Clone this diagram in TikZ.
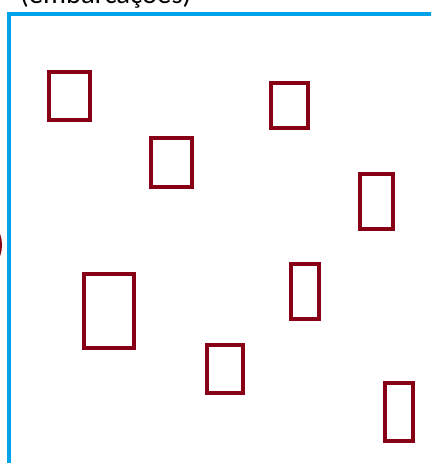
\documentclass[tikz,border=0pt]{standalone}
\usepackage{fontspec}
\usepackage{xcolor}
\usepackage{tikz}
\usetikzlibrary{positioning}

\newfontfamily\labelfont{Carlito}
\definecolor{boatred}{RGB}{136,0,21}
\definecolor{framecyan}{RGB}{0,162,232}

\begin{document}
\begin{tikzpicture}[
  x=1pt, y=-1pt,
  boat/.style={rectangle, draw=boatred, line width=4pt, inner sep=0pt},
  frameline/.style={draw=framecyan, line width=4pt, line join=miter},
  caption/.style={font=\labelfont\fontsize{28.7}{30}\selectfont, inner sep=0pt}
]
\useasboundingbox (0,0) rectangle (431,463);
\clip (0,0) rectangle (431,463);

% area frame
\coordinate (fbot) at (9,470);
\coordinate (fcorner) at (9,14);
\coordinate (fright) at (440,14);
\draw[frameline] (fbot) -- (fcorner) -- (fright);

\node[caption, anchor=base west] (label) at (20,3) {(embarcações)};

% shape cut by the left edge
\fill[boatred] (-20,245) ellipse [x radius=22, y radius=27];

% boats
\node[boat, minimum width=41pt, minimum height=48pt] (b1) at (69.5,96) {};
\node[boat, minimum width=41pt, minimum height=49pt] (b2) at (171.5,162.5) {};
\node[boat, minimum width=37pt, minimum height=45pt] (b3) at (289.5,105.5) {};
\node[boat, minimum width=33pt, minimum height=55pt] (b4) at (376.5,201.5) {};
\node[boat, minimum width=50pt, minimum height=74pt] (b5) at (109,311) {};
\node[boat, minimum width=36pt, minimum height=48pt] (b6) at (225,369) {};
\node[boat, minimum width=28pt, minimum height=55pt] (b7) at (305,291.5) {};
\node[boat, minimum width=28pt, minimum height=58pt] (b8) at (399,412) {};

\end{tikzpicture}
\end{document}
